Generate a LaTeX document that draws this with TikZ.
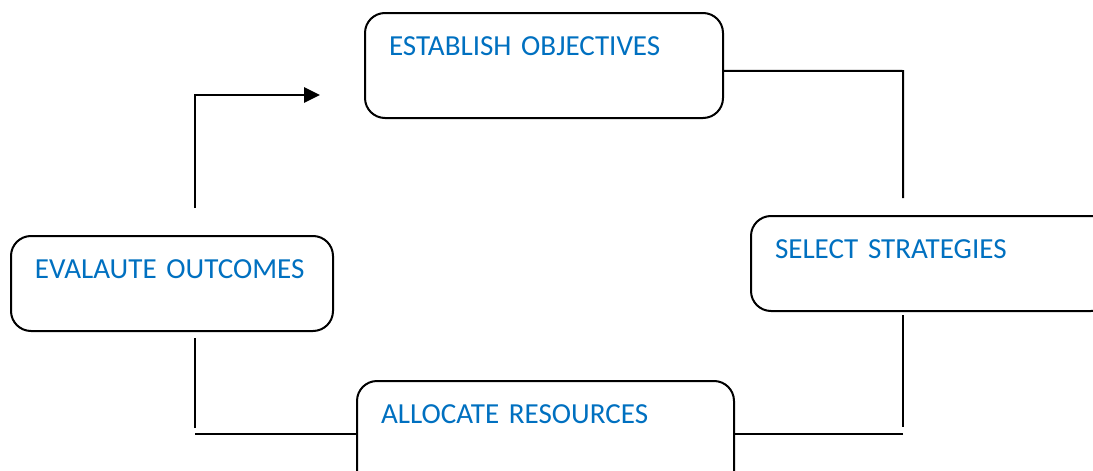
\documentclass[tikz,border=0pt]{standalone}
\usepackage{fontspec}
\setmainfont{Carlito}
\usetikzlibrary{arrows.meta,positioning}
\definecolor{StageBlue}{HTML}{0070C0}

\begin{document}
\begin{tikzpicture}[x=0.75pt,y=-0.75pt]
\tikzset{stage/.style={draw=black,line width=1.5pt,rounded corners=15pt,anchor=north west,align=left,text=StageBlue,font=\fontsize{21.8}{26}\selectfont,inner xsep=18pt,inner ysep=0pt,text height=32pt},
  link/.style={black,line width=1.5pt},
  a/.style={link,-{Triangle[length=12pt,width=11.5pt]}}}
\useasboundingbox (0,0) rectangle (1093,471);
\node[stage,text width=232.5pt,text depth=46.75pt] (est) at (364,12) {ESTABLISH OBJECTIVES};
\node[stage,text width=234pt,text depth=39.25pt] (sel) at (750,215) {SELECT STRATEGIES};
\node[stage,text width=205.5pt,text depth=39.25pt] (eval) at (10,235) {EVALAUTE OUTCOMES};
\node[stage,text width=246.75pt,text depth=52pt] (alloc) at (356,380) {ALLOCATE RESOURCES};
% loose ends of the cycle
\coordinate (c1) at (903,198);
\coordinate (c2) at (903,315);
\coordinate (c3) at (903,427);
\coordinate (c4) at (903,434);
\coordinate (c5) at (195,434);
\coordinate (c6) at (195,428);
\coordinate (c7) at (195,338);
\coordinate (c8) at (195,208);
\coordinate (c9) at (320,95);
\draw[link] ([yshift=-4pt]est.east) -- (c1 |- 0,71) -- (c1);
\draw[link] (c2) -- (c3);
\draw[link] (c4) -- (c4 -| alloc.east);
\draw[link] (c5 -| alloc.west) -- (c5);
\draw[link] (c6) -- (c7);
\draw[a] (c8) -- (c8 |- c9) -- (c9);
\end{tikzpicture}
\end{document}
